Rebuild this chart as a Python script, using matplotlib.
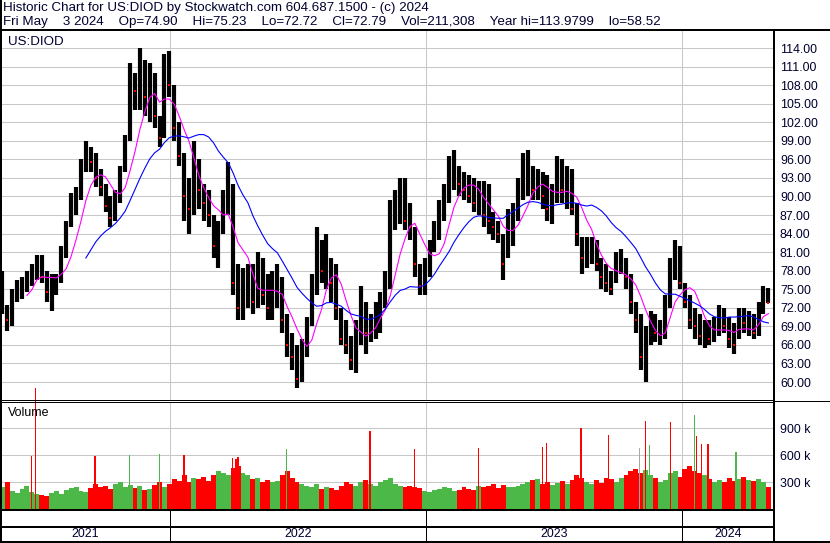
import matplotlib
matplotlib.use("Agg")
import matplotlib.pyplot as plt
from matplotlib.lines import Line2D
import numpy as np
import pandas as pd

plt.rcParams['font.family'] = ['Liberation Sans', 'DejaVu Sans']

# weekly bars (Fridays)
weeks = pd.date_range("2021-05-07", periods=157, freq="W-FRI")
highs = [78, 72.5, 75, 76.5, 77, 78, 79, 80.5, 80.5, 78,
         77.5, 77.5, 82, 86, 90.5, 91.5, 96, 99, 98, 97,
         94.5, 92, 90, 91, 95, 100, 111.5, 110, 114, 112,
         111.5, 110, 103, 113, 113.5, 108, 102, 97, 93, 99,
         96, 92, 91, 87, 86, 91, 95.5, 92, 79, 78.5,
         79, 79, 81, 80, 77.5, 78, 79, 77, 71, 68,
         66, 67, 70.5, 77.5, 85, 83, 84, 80, 79, 72,
         70, 67.5, 70, 75.5, 73, 71, 73, 74.5, 78, 89.5,
         91, 93, 93, 89, 85, 79, 80, 83, 86, 89.5,
         92, 96.5, 97.5, 95, 94, 93.5, 93, 92.5, 92.5, 92,
         87.5, 86, 84, 88, 89, 93, 97, 97.5, 95, 94.5,
         94, 93.5, 92, 96.5, 96, 95, 94.5, 89, 83.5, 83.5,
         83.5, 83, 80, 79, 78, 81, 81.5, 80, 77.5, 73,
         71, 69, 71.5, 71, 70, 74, 80, 83, 82, 76,
         74, 72, 71, 70, 70, 70.5, 72.5, 72, 70.5, 69.5,
         72, 72, 71.5, 71, 73, 75.5, 75.23]
lows = [71, 68.3, 69, 73, 73.5, 74.5, 75.5, 76.5, 76, 73,
        71.5, 74, 76, 80, 85, 87, 89.5, 94, 94, 91.5,
        90, 87.5, 85, 86, 89, 94, 99, 104, 104, 103,
        102, 101, 98, 99.5, 106, 99, 95, 86, 84, 87,
        88, 86, 85, 80, 78.5, 84, 87, 74, 70, 70,
        72, 71, 72, 72.5, 70, 70, 72, 68, 64, 62,
        59, 60, 64, 69, 74, 76, 75, 73, 70, 66,
        64.5, 62, 61.5, 66, 64.5, 66.5, 67, 68, 72, 75,
        84.5, 85.5, 84.5, 83, 77, 74, 74, 77, 81, 83,
        86, 89, 91, 90, 89.5, 89, 87.5, 87, 85, 84,
        83, 82.5, 76.5, 80, 82, 86, 89.5, 90, 89.5, 89.5,
        88, 86, 85.5, 89, 89, 88, 87, 82, 77.5, 78.5,
        79, 78, 75, 74.5, 74, 76, 77.5, 75, 71, 68,
        62, 60, 66, 66.5, 66, 67, 72, 76.5, 75, 72,
        68.5, 67, 66, 65.5, 66, 66.5, 67.5, 68, 65.5, 64.5,
        67, 68, 67.5, 67, 67.5, 71, 72.72]
closes = [72, 70, 74, 75, 76, 77, 77.5, 79.5, 77, 74.5,
          76, 76.5, 81, 85, 89, 90.5, 94, 96.5, 95.5, 93,
          91.5, 88.5, 86.5, 89, 94, 99, 108, 107, 108, 106,
          108, 103, 99.5, 110, 108, 101, 96.5, 90, 88, 94,
          91, 89, 87, 82, 84, 89, 92, 76, 72, 75,
          77, 73, 78, 74, 72, 75, 76, 70, 66, 64,
          60.5, 65, 69, 76, 82, 78, 80, 76, 72, 67,
          66, 63.5, 68, 72, 68, 70, 71, 73, 76, 86,
          88, 90, 86, 85, 79, 75.5, 78, 81, 84, 87,
          89, 94, 95, 92, 91, 90, 89, 90, 87, 86,
          85, 84, 79, 86, 87, 91, 94, 94, 91, 92,
          90, 88, 90, 93, 91, 93, 88, 84, 80, 81,
          82, 79, 77, 76, 75, 79, 80, 77, 73, 70,
          64, 66, 69, 68, 68, 72.5, 79, 81, 76, 73,
          70, 69, 67.5, 68, 67, 69, 70, 69, 67, 66,
          70, 69.5, 70, 68, 72, 74, 72.79]
# volume in thousands
volumes = [250, 300, 200, 180, 220, 260, 190,
           170, 160, 150, 180, 200, 170, 210,
           230, 250, 200, 190, 230, 280, 250,
           260, 220, 280, 300, 240, 270, 230,
           260, 210, 220, 270, 300, 240, 280,
           330, 310, 380, 300, 350, 330, 360,
           310, 380, 420, 400, 380, 460, 480,
           400, 380, 330, 350, 300, 320, 300,
           310, 380, 420, 350, 300, 280, 260,
           250, 280, 220, 240, 230, 210, 260,
           300, 280, 260, 300, 320, 280, 260,
           300, 320, 340, 280, 260, 240, 260,
           250, 230, 200, 190, 210, 220, 240,
           230, 200, 210, 250, 220, 210, 260,
           240, 260, 280, 230, 270, 250, 240,
           260, 280, 300, 320, 330, 280, 300,
           270, 290, 310, 280, 320, 380, 340,
           300, 280, 320, 290, 350, 330, 300,
           350, 380, 420, 450, 400, 430, 380,
           350, 300, 320, 400, 420, 360, 440,
           480, 420, 400, 380, 330, 300, 320,
           300, 340, 310, 330, 360, 320, 310,
           330, 300, 250]
# single heavy days
spike_days = pd.to_datetime([
    "2021-06-18", "2021-06-23", "2021-09-16", "2021-11-04", "2021-12-17",
    "2022-01-21", "2022-03-31", "2022-04-05", "2022-04-08", "2022-06-16",
    "2022-10-13", "2022-12-16", "2023-03-17", "2023-06-16", "2023-06-22",
    "2023-08-10", "2023-09-18", "2023-11-01", "2023-11-10", "2023-11-16",
    "2023-12-15", "2024-01-19", "2024-01-22", "2024-01-29", "2024-02-07",
    "2024-03-18"])
spike_vols = [589, 1345, 589, 600, 607, 600, 570, 560, 575, 667, 867, 667, 681,
              692, 737, 896, 822, 681, 978, 711, 970, 1040, 815, 718, 718, 637]
spike_up = ["d", "d", "d", "u", "u", "d", "d", "d", "d", "u", "d", "d", "d",
            "d", "d", "d", "d", "n", "d", "u", "d", "u", "d", "d", "d", "u"]

year_labels = ["2021", "2022", "2023", "2024"]
price_ticks = np.arange(60, 115, 3)
vol_ticks = [300, 600, 900]

header1 = "Historic Chart for US:DIOD by Stockwatch.com 604.687.1500 - (c) 2024"
header2 = ("Fri May    3 2024    Op=74.90    Hi=75.23    Lo=72.72    Cl=72.79    "
           "Vol=211,308    Year hi=113.9799    lo=58.52")

W, H = 830, 543
txt = "#000030"
RED, GREEN, GRAY = "#ff0000", "#4cb848", "#a8a8a8"
FS = 8.9
FS_HEAD = 9.6

fig = plt.figure(figsize=(W / 100, H / 100), dpi=100)


def rect(x0, y0, x1, y1):
    return [x0 / W, 1 - y1 / H, (x1 - x0) / W, (y1 - y0) / H]


def hline(y, x0, x1, lw=1.0):
    fig.add_artist(Line2D([x0 / W, x1 / W], [1 - y / H, 1 - y / H],
                          color="black", lw=lw * 0.72, transform=fig.transFigure))


def vline(x, y0, y1, lw=1.0):
    fig.add_artist(Line2D([x / W, x / W], [1 - y0 / H, 1 - y1 / H],
                          color="black", lw=lw * 0.72, transform=fig.transFigure))


xlim = (pd.Timestamp("2021-05-05"), pd.Timestamp("2024-05-11"))
year_starts = pd.to_datetime(["2022-01-01", "2023-01-01", "2024-01-01"])

closes_s = pd.Series(closes, index=weeks)
ma_fast = closes_s.rolling(6).mean()
ma_slow = closes_s.rolling(18).mean()
down = closes_s < closes_s.shift(1)

# price panel
ax = fig.add_axes(rect(1, 31, 774, 400))
ax.set_xlim(xlim)
ax.set_ylim(57.09, 116.75)
ax.set_yticks(price_ticks)
ax.set_yticklabels([f"{v:.2f}" for v in price_ticks])
ax.yaxis.tick_right()
ax.tick_params(axis="y", length=0, pad=4.3, labelsize=FS, labelcolor=txt)
ax.tick_params(axis="x", length=0, labelbottom=False)
ax.grid(axis="y", color="#c8c8c8", lw=0.75)
for d in year_starts:
    ax.axvline(d, color="#c8c8c8", lw=0.75, zorder=0)
for s in ax.spines.values():
    s.set_visible(False)
ax.vlines(weeks, lows, highs, color="black", lw=3.0, zorder=2)
ax.plot(weeks[down], closes_s[down], "s", color=RED, ms=1.6, mew=0, zorder=3)
ax.plot(weeks, ma_fast, color="#ff00ff", lw=0.8, zorder=4)
ax.plot(weeks, ma_slow, color="#0000ff", lw=0.8, zorder=4)
ax.text(7 / 773, 1 - 11 / 369, "US:DIOD", transform=ax.transAxes,
        fontsize=FS_HEAD, color=txt, va="center")

# volume panel
av = fig.add_axes(rect(1, 403, 774, 509))
av.set_xlim(xlim)
av.set_ylim(0, 1178)
av.set_yticks(vol_ticks)
av.set_yticklabels([f"{v} k" for v in vol_ticks])
av.yaxis.tick_right()
av.tick_params(axis="y", length=0, pad=4.3, labelsize=FS, labelcolor=txt)
av.tick_params(axis="x", length=0, labelbottom=False)
av.grid(axis="y", color="#c8c8c8", lw=0.75)
for d in year_starts:
    av.axvline(d, color="#c8c8c8", lw=0.75, zorder=0)
for s in av.spines.values():
    s.set_visible(False)
vcols = [RED if dn else GREEN for dn in down]
av.bar(weeks, volumes, width=7, color=vcols, zorder=2)
scol = {"u": GREEN, "d": RED, "n": GRAY}
sb = av.bar(spike_days, spike_vols, width=1.8,
            color=[scol[c] for c in spike_up], zorder=3)
for r in sb:
    r.set_clip_on(False)
av.text(7 / 773, 1 - 10 / 106, "Volume", transform=av.transAxes,
        fontsize=FS, color="black", va="center", zorder=5)

# year strip
ay = fig.add_axes(rect(1, 510, 774, 541))
ay.set_xlim(xlim)
ay.set_ylim(0, 1)
ay.axis("off")
bounds = [xlim[0]] + list(year_starts) + [xlim[1]]
for i, lab in enumerate(year_labels):
    mid = bounds[i] + (bounds[i + 1] - bounds[i]) / 2
    ay.text(mid, 0.22, lab, ha="center", va="center", fontsize=FS, color=txt)

# frame lines
hline(30, 0, 830, 2)
vline(774, 30, 542, 2)
vline(0.5, 0, 542, 2)
vline(829.5, 0, 542, 1)
hline(400, 0, 774)
hline(402, 0, 774)
hline(401, 774, 830)
hline(509.5, 0, 774, 2)
hline(527, 0, 774, 2)
hline(541.5, 0, 830, 2)
for d in year_starts:
    frac = (d - xlim[0]) / (xlim[1] - xlim[0])
    vline(1 + frac * 773, 509, 541)

fig.text(3 / W, 1 - 8.5 / H, header1, fontsize=FS_HEAD, color=txt, va="center")
fig.text(3 / W, 1 - 22.5 / H, header2, fontsize=FS_HEAD, color=txt, va="center")

fig.savefig("out.png", dpi=100)
